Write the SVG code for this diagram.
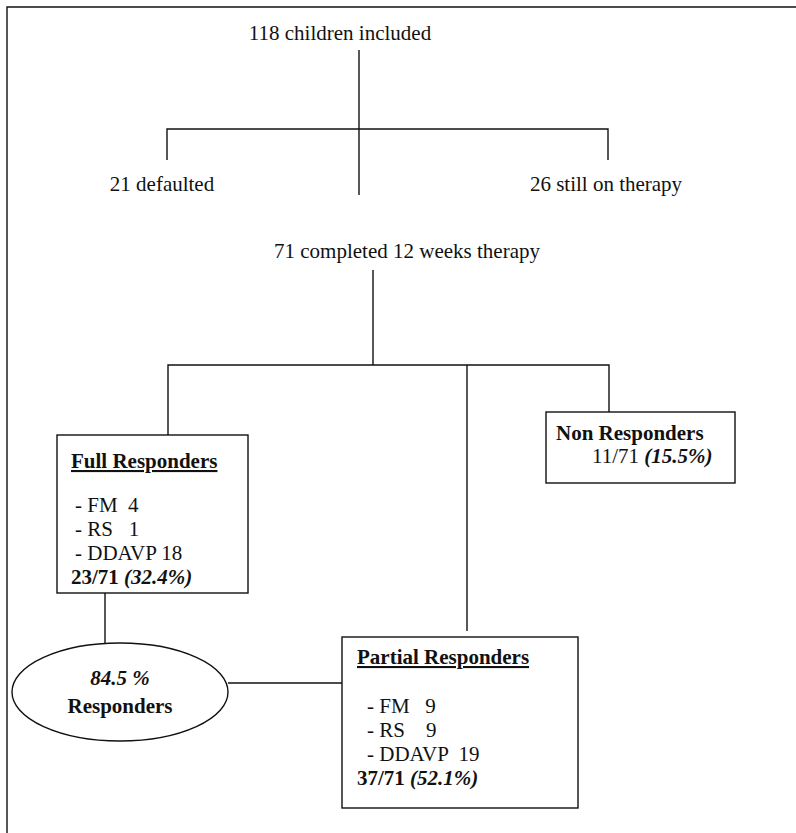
<svg xmlns="http://www.w3.org/2000/svg" width="796" height="833" viewBox="0 0 796 833">
<style>
  text { font-family: "Liberation Serif", "Times New Roman", serif; font-size: 21px; fill: #111; white-space: pre; }
  .b { font-weight: bold; }
  .bi { font-weight: bold; font-style: italic; }
  .u { text-decoration: underline; }
  .ln { stroke: #111; stroke-width: 1.4; fill: none; }
  .box { stroke: #111; stroke-width: 1.4; fill: #fff; }
</style>
<rect x="0" y="0" width="796" height="833" fill="#fff"/>
<g id="frame">
  <path class="ln" d="M7,833 V7 H796"/>
</g>
<g id="connectors">
  <path class="ln" d="M359,50 V195"/>
  <path class="ln" d="M167,160 V129 H608 V160"/>
  <path class="ln" d="M373,270 V365"/>
  <path class="ln" d="M168,435 V365 H609 V412"/>
  <path class="ln" d="M467,365 V631"/>
  <path class="ln" d="M105,593 V644"/>
  <path class="ln" d="M228,683 H342"/>
</g>
<g id="n-included"><text x="340" y="40" text-anchor="middle">118 children included</text></g>
<g id="n-defaulted"><text x="162" y="191" text-anchor="middle">21 defaulted</text></g>
<g id="n-still"><text x="606" y="191" text-anchor="middle">26 still on therapy</text></g>
<g id="n-completed"><text x="407" y="258" text-anchor="middle">71 completed 12 weeks therapy</text></g>
<g id="n-full">
  <rect class="box" x="57" y="435" width="191" height="158"/>
  <text x="71" y="468" class="b u">Full Responders</text>
  <text x="75" y="512">- FM  4</text>
  <text x="75" y="536">- RS   1</text>
  <text x="75" y="560">- DDAVP 18</text>
  <text x="71" y="584" class="b">23/71 <tspan class="bi">(32.4%)</tspan></text>
</g>
<g id="n-non">
  <rect class="box" x="546" y="412" width="189" height="71"/>
  <text x="556" y="440" class="b">Non Responders</text>
  <text x="592" y="463">11/71 <tspan class="bi">(15.5%)</tspan></text>
</g>
<g id="n-partial">
  <rect class="box" x="342" y="637" width="236" height="171"/>
  <text x="357" y="664" class="b u">Partial Responders</text>
  <text x="367" y="713">- FM   9</text>
  <text x="367" y="737">- RS    9</text>
  <text x="367" y="761">- DDAVP  19</text>
  <text x="357" y="785" class="b">37/71 <tspan class="bi">(52.1%)</tspan></text>
</g>
<g id="n-responders">
  <ellipse class="box" cx="120" cy="692" rx="108" ry="49"/>
  <text x="120" y="685" class="bi" text-anchor="middle">84.5 %</text>
  <text x="120" y="713" class="b" text-anchor="middle">Responders</text>
</g>
</svg>
